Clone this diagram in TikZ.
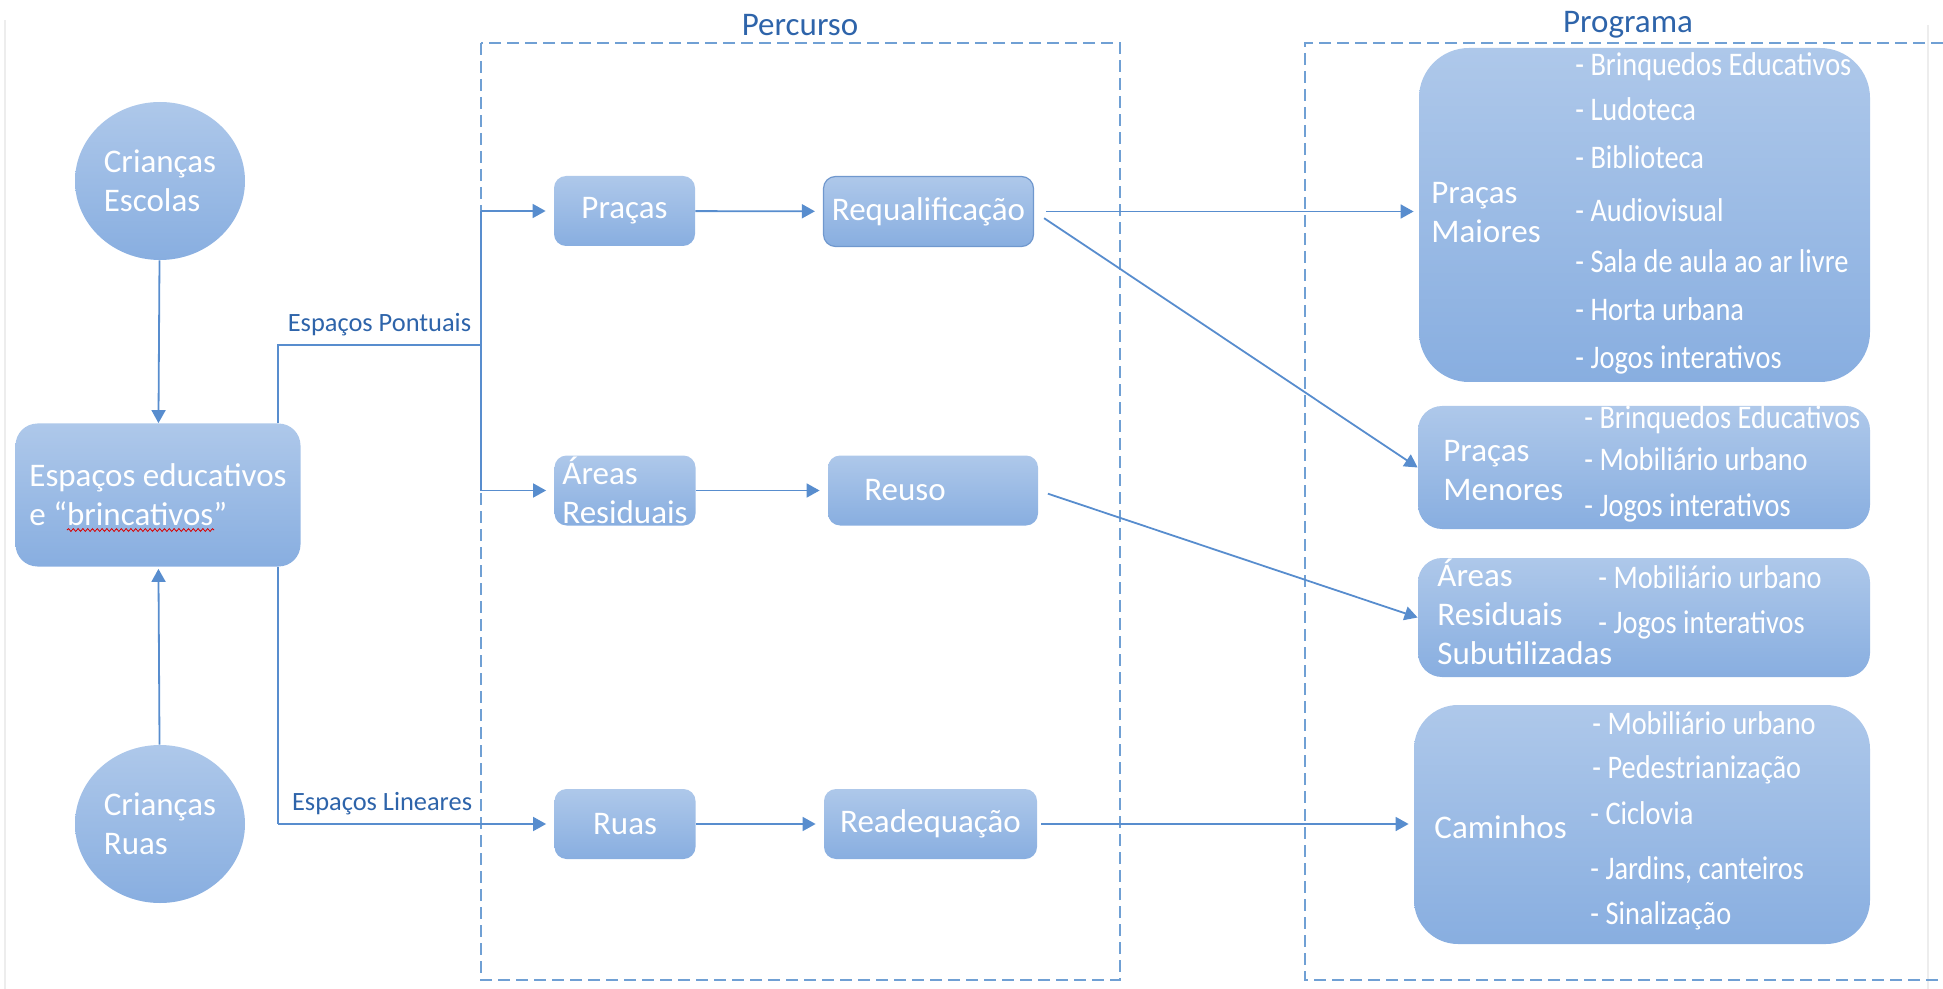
\documentclass[tikz,border=0pt]{standalone}
\usepackage{fontspec}
\setmainfont{Carlito}
\newfontfamily\narrowfont{Carlito}[FakeStretch=0.86]
\usepackage{tikz}
\usetikzlibrary{arrows.meta,shapes.geometric,calc,decorations.pathmorphing}
\definecolor{linecol}{RGB}{88,141,206}
\definecolor{boxtop}{RGB}{174,200,234}
\definecolor{boxbot}{RGB}{136,174,224}
\definecolor{edgecol}{RGB}{112,152,206}
\definecolor{titlecol}{RGB}{46,100,170}
\definecolor{dashcol}{RGB}{112,160,212}
\newcommand{\boxfont}{\fontsize{16.5}{19.5}\selectfont}
\newcommand{\itemfont}{\narrowfont\fontsize{16.5}{19.5}\selectfont}
\newcommand{\lblfont}{\fontsize{13.2}{15}\selectfont}
\tikzset{>={Triangle[length=6.5pt,width=7pt]}}
\tikzstyle{cell}=[rectangle,rounded corners=6pt,top color=boxtop,bottom color=boxbot,text=white,font=\boxfont,align=center,inner sep=0pt]
\tikzstyle{smallcell}=[cell,minimum width=70.5pt,minimum height=35pt]
\tikzstyle{widecell}=[cell,minimum width=105pt,minimum height=35pt]
\tikzstyle{circ}=[ellipse,top color=boxtop,bottom color=boxbot,text=white,font=\boxfont,align=left,minimum width=85pt,minimum height=79pt,inner sep=0pt]
\tikzstyle{headtext}=[anchor=west,inner sep=0pt,text=white,font=\boxfont,align=left]
\tikzstyle{itemtext}=[anchor=west,inner sep=0pt,text=white,font=\itemfont,text height=11pt,text depth=0pt]
\tikzstyle{wire}=[draw=linecol,line width=0.9pt]
\tikzstyle{lbl}=[font=\lblfont,text=titlecol,inner sep=2pt]
\tikzstyle{title}=[font=\fontsize{16.5}{19}\selectfont,text=titlecol,inner sep=0pt]
\tikzstyle{dashframe}=[draw=dashcol,line width=0.6pt,dash pattern=on 6pt off 3pt]
\tikzstyle{pageline}=[draw=black!7,line width=0.6pt]
\tikzstyle{spellwave}=[draw=red!85!black,line width=0.4pt,decorate,decoration={snake,amplitude=0.7pt,segment length=2.4pt}]

\begin{document}
\begin{tikzpicture}[x=0.5pt,y=-0.5pt]
	\useasboundingbox (0,0) rectangle (1943,989);
	
	\draw[pageline] (5,20) -- (5,989);
	\draw[pageline] (1928,25) -- (1928,989);
	
	% frames
	\draw[dashframe] (481,43) rectangle (1120,980);
	\draw[dashframe] (1943,43) -- (1305,43) -- (1305,980) -- (1943,980);
	\node[title] (percurso) at (800,25) {Percurso};
	\node[title] (programa) at (1628,25) {Programa};
	
	% left column
	\node[circ] (escolas) at (160,181) {Crianças\\Escolas};
	\node[cell,minimum width=142.5pt,minimum height=71.5pt,rounded corners=11pt,align=left] (espacos) at (158,495) {Espaços educativos\\e “brincativos”};
	\draw[spellwave] ($(espacos.center)+(-91,35)$) -- ($(espacos.center)+(56,35)$);
	\node[circ] (ruascirc) at (160,824) {Crianças\\Ruas};
	
	% percurso
	\node[smallcell] (pracas) at (624.5,211) {Praças};
	\node[widecell,draw=edgecol,line width=0.6pt] (requal) at (928.5,211.5) {Requalificação};
	\node[smallcell,align=left] (areas) at (625,490.5) {Áreas\\Residuais};
	\node[widecell] (reuso) at (933,490.5) {Reuso\hspace*{28pt}};
	\node[smallcell] (ruas) at (625,824) {Ruas};
	\node[widecell,minimum width=106.5pt] (readeq) at (930.5,824) {Readequação};
	
	% programa
	\node[cell,minimum width=225.5pt,minimum height=167pt,rounded corners=25pt] (maiores) at (1644.5,215) {};
	\node[headtext] (maioresh) at (1431,212.5) {Praças\\Maiores};
	\node[itemtext] (pm1) at (1575,65) {- Brinquedos Educativos};
	\node[itemtext] (pm2) at (1575,110) {- Ludoteca};
	\node[itemtext] (pm3) at (1575,158) {- Biblioteca};
	\node[itemtext] (pm4) at (1575,211) {- Audiovisual};
	\node[itemtext] (pm5) at (1575,262) {- Sala de aula ao ar livre};
	\node[itemtext] (pm6) at (1575,310) {- Horta urbana};
	\node[itemtext] (pm7) at (1575,358) {- Jogos interativos};
	
	\node[cell,minimum width=226pt,minimum height=61.5pt,rounded corners=12pt] (menores) at (1644,467.5) {};
	\node[headtext] (menoresh) at (1443,471) {Praças\\Menores};
	\node[itemtext] (pn1) at (1584,418) {- Brinquedos Educativos};
	\node[itemtext] (pn2) at (1584,460) {- Mobiliário urbano};
	\node[itemtext] (pn3) at (1584,505) {- Jogos interativos};
	
	\node[cell,minimum width=226pt,minimum height=59.5pt,rounded corners=12pt] (subutil) at (1644,617.5) {};
	\node[headtext] (subutilh) at (1437,612) {Áreas\\Residuais\\Subutilizadas};
	\node[itemtext] (ar1) at (1598,577) {- Mobiliário urbano};
	\node[itemtext] (ar2) at (1598,622) {- Jogos interativos};
	
	\node[cell,minimum width=228pt,minimum height=119.5pt,rounded corners=22pt] (caminhos) at (1642,824.5) {};
	\node[headtext] (caminhosh) at (1434,827) {Caminhos};
	\node[itemtext] (cm1) at (1592,723) {- Mobiliário urbano};
	\node[itemtext] (cm2) at (1592,767) {- Pedestrianização};
	\node[itemtext] (cm3) at (1590,813) {- Ciclovia};
	\node[itemtext] (cm4) at (1590,868) {- Jardins, canteiros};
	\node[itemtext] (cm5) at (1590,913) {- Sinalização};
	
	% connectors
	\coordinate (up) at (278,345);
	\coordinate (trunk) at (481,345);
	\coordinate (down) at (278,824);
	
	\draw[wire,->] (escolas) -- (espacos);
	\draw[wire,->,shorten >=1pt] (ruascirc) -- (espacos);
	\draw[wire] (espacos.north -| up) -- (up) -- node[lbl,above=2pt] (pontuais) {Espaços Pontuais} (trunk);
	\draw[wire] (trunk |- pracas) -- (trunk |- areas);
	\draw[wire,->,shorten >=4pt] (trunk |- pracas) -- (pracas);
	\draw[wire,->,shorten >=4pt] (trunk |- areas) -- (areas);
	\draw[wire] (espacos.south -| down) -- (down);
	\draw[wire,->,shorten >=4pt] (down) -- node[lbl,above=2pt,pos=0.377] (lineares) {Espaços Lineares} (ruas);
	
	\draw[wire,->,shorten >=4pt] (pracas) -- (requal);
	\draw[wire,->,shorten >=4pt] (areas) -- (reuso);
	\draw[wire,->,shorten >=4pt] (ruas) -- (readeq);
	
	\draw[wire,->,shorten <=6pt,shorten >=2.5pt] (requal.east) -- (requal.east -| maiores.west);
	\draw[wire,->,shorten <=6pt] (requal.east) -- (menores.west);
	\draw[wire,->,shorten <=5pt] (reuso.east) -- (subutil.west);
	\draw[wire,->,shorten <=2pt,shorten >=2.5pt] (readeq.east) -- (readeq.east -| caminhos.west);
\end{tikzpicture}
\end{document}
